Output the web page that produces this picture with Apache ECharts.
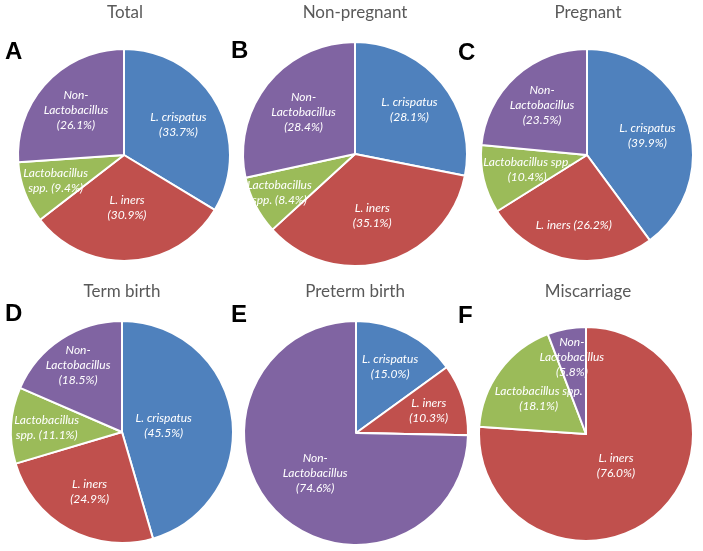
<!DOCTYPE html>
<html><head><meta charset="utf-8">
<script src="https://cdn.jsdelivr.net/npm/echarts@6/dist/echarts.min.js"></script>
<style>html,body{margin:0;padding:0;background:#fff}#c{width:703px;height:551px}</style>
</head><body><div id="c"></div>
<script>
// ---- DATA ----
const panelLetters = ['A', 'B', 'C', 'D', 'E', 'F'];
const panelTitles = ['Total', 'Non-pregnant', 'Pregnant', 'Term birth', 'Preterm birth', 'Miscarriage'];
const categories = ['L. crispatus', 'L. iners', 'Lactobacillus spp.', 'Non-Lactobacillus'];
const crispatus = [33.7, 28.1, 39.9, 45.5, 15.0, 0];
const iners     = [30.9, 35.1, 26.2, 24.9, 10.3, 76.0];
const lactoSpp  = [9.4, 8.4, 10.4, 11.1, 0, 18.1];
const nonLacto  = [26.1, 28.4, 23.5, 18.5, 74.6, 5.8];

// ---- LABEL TEXT TEMPLATES (line breaks per panel) ----
const labelTemplates = [
  ['L. crispatus\n({v})', 'L. iners\n({v})', 'Lactobacillus\nspp. ({v})', 'Non-\nLactobacillus\n({v})'],
  ['L. crispatus\n({v})', 'L. iners\n({v})', 'Lactobacillus\nspp. ({v})', 'Non-\nLactobacillus\n({v})'],
  ['L. crispatus\n({v})', 'L. iners ({v})', 'Lactobacillus spp.\n({v})', 'Non-\nLactobacillus\n({v})'],
  ['L. crispatus\n({v})', 'L. iners\n({v})', 'Lactobacillus\nspp. ({v})', 'Non-\nLactobacillus\n({v})'],
  ['L. crispatus\n({v})', 'L. iners\n({v})', 'Lactobacillus\nspp. ({v})', 'Non-\nLactobacillus\n({v})'],
  ['L. crispatus\n({v})', 'L. iners\n({v})', 'Lactobacillus spp.\n({v})', 'Non-\nLactobacillus\n({v})']
];

// ---- LAYOUT / STYLE ----
const colors = ['#4F81BD', '#C0504D', '#9BBB59', '#8064A2'];
const centers = [[124, 155], [355, 154], [587, 155], [122, 432], [356, 433], [586, 434]];
const radii = [106, 112, 106, 111, 112, 107];
const labelRadialFactor = [
  [0.59, 0.50, 0.69, 0.62],
  [0.63, 0.57, 0.76, 0.59],
  [0.60, 0.67, 0.58, 0.63],
  [0.38, 0.61, 0.68, 0.72],
  [0.67, 0.68, 0.60, 0.51],
  [0.60, 0.41, 0.55, 0.73]
];
const titleX = [125, 355, 588, 122, 355, 588];
const titleTop = [4, 4, 4, 283, 283, 283];
const letterX = [5, 231, 458, 5, 231, 458];
const letterTop = [40, 39, 41, 302, 303, 304];

const seriesValues = [crispatus, iners, lactoSpp, nonLacto];

const chart = echarts.init(document.getElementById('c'), null, {renderer: 'canvas'});

const titles = [];
const series = [];
for (let p = 0; p < 6; p++) {
  titles.push({
    text: panelTitles[p], left: titleX[p], top: titleTop[p], textAlign: 'center', padding: 0,
    textStyle: {fontFamily: 'Lato', fontSize: 17, fontWeight: 'normal', color: '#595959', lineHeight: 18}
  });
  titles.push({
    text: panelLetters[p], left: letterX[p], top: letterTop[p], padding: 0,
    textStyle: {fontFamily: 'Liberation Sans', fontSize: 24, fontWeight: 'bold', color: '#000', lineHeight: 24}
  });
  const vals = seriesValues.map(a => a[p]);
  const total = vals.reduce((s, v) => s + v, 0);
  const mids = [];
  let acc = 0;
  vals.forEach(v => { mids.push((acc + v / 2) / total * 2 * Math.PI); acc += v; });
  const cx = centers[p][0], cy = centers[p][1], r = radii[p];
  series.push({
    type: 'pie',
    center: [cx, cy],
    radius: [0, r],
    startAngle: 90,
    clockwise: true,
    avoidLabelOverlap: false,
    animation: false,
    itemStyle: {borderColor: '#fff', borderWidth: 2},
    label: {
      show: true, position: 'inside', color: '#fff', fontStyle: 'italic',
      fontFamily: 'Lato', fontSize: 12, lineHeight: 15,
      formatter: params => labelTemplates[p][params.dataIndex].replace('{v}', params.value.toFixed(1) + '%')
    },
    labelLine: {show: false},
    emphasis: {disabled: true},
    labelLayout: params => {
      const i = params.dataIndex;
      const k = labelRadialFactor[p][i] * r;
      return {x: cx + k * Math.sin(mids[i]), y: cy - k * Math.cos(mids[i]), align: 'center', verticalAlign: 'middle'};
    },
    data: categories.map((name, i) => ({
      name: name, value: vals[i],
      itemStyle: {color: colors[i]},
      label: {show: vals[i] > 0}
    }))
  });
}

chart.setOption({backgroundColor: '#fff', title: titles, series: series});
</script></body></html>
